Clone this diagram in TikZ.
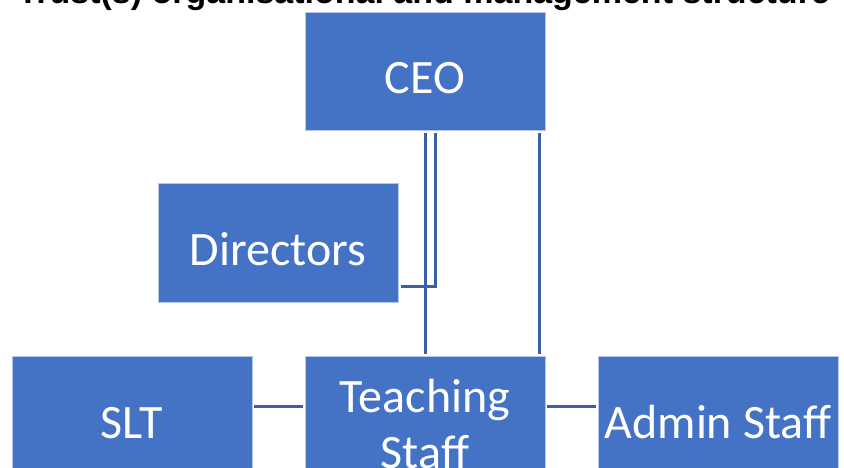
\documentclass[tikz,border=0pt]{standalone}
\usepackage{fontspec}
\newfontfamily\boxfont{Carlito}
\newfontfamily\headfont{Liberation Sans}
\definecolor{boxblue}{HTML}{4472C4}
\definecolor{boxedge}{HTML}{B4C7E7}
\definecolor{linkblue}{HTML}{3A5FA5}
\begin{document}
\begin{tikzpicture}[x=1pt,y=-1pt,
		orgbox/.style={fill=boxblue,draw=boxedge,line width=0.8pt,minimum width=240pt,minimum height=118pt,inner sep=0pt,
			text=white,font=\boxfont\fontsize{48}{56}\selectfont,align=center,text height=46pt,text depth=0pt},
		link/.style={draw=linkblue,line width=3pt}]
		\useasboundingbox (0,0) rectangle (844,468);
		\node[anchor=base west,font=\headfont\bfseries\fontsize{34}{40}\selectfont] (heading) at (14,3.5) {Trust(s) organisational and management structure};
		\node[orgbox] (ceo) at (425,71) {CEO};
		\node[orgbox,minimum height=119pt] (directors) at (278,242.5) {Directors};
		\node[orgbox] (slt) at (132,415) {SLT};
		\node[orgbox,text height=106pt] (teaching) at (425,415) {Teaching\\Staff};
		\node[orgbox] (admin) at (718,415) {Admin Staff};
		\draw[link](ceo.south) ++(0,3) -- ([yshift=2pt]teaching.north);
		\draw[link]([xshift=10pt,yshift=-3pt]ceo.south) |- ([xshift=3pt,yshift=-43.5pt]directors.east);
		\draw[link]([xshift=114pt,yshift=-3pt]ceo.south) -- ([xshift=114pt,yshift=2pt]teaching.north);
		\draw[link]([xshift=2pt,yshift=9pt]slt.east) -- ([xshift=-2pt,yshift=9pt]teaching.west);
		\draw[link]([xshift=2pt,yshift=9pt]teaching.east) -- ([xshift=-2pt,yshift=9pt]admin.west);
	\end{tikzpicture}
\end{document}
